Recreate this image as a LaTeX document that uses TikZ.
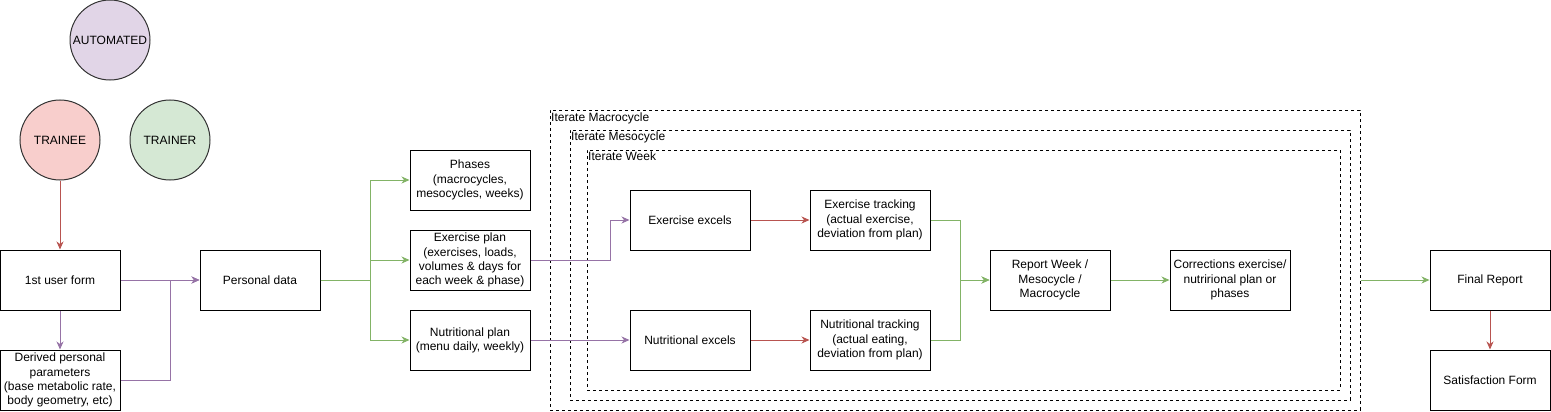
\documentclass[tikz,border=0pt]{standalone}
\usepackage{fontspec}
\setmainfont{Liberation Sans}
\usetikzlibrary{arrows.meta,positioning}
\definecolor{gline}{HTML}{82B366}
\definecolor{rline}{HTML}{B85450}
\definecolor{pline}{HTML}{9673A6}
\definecolor{pfill}{HTML}{E1D5E7}
\definecolor{rfill}{HTML}{F8CECC}
\definecolor{gfill}{HTML}{D5E8D4}
\tikzset{
  box/.style={draw=black, line width=1pt, minimum width=120pt, minimum height=60pt, inner sep=0pt, align=center, font=\fontsize{12}{14.2}\selectfont},
  role/.style={circle, draw=black!80, line width=1pt, minimum size=80pt, inner sep=0pt, align=center, font=\fontsize{12}{14}\selectfont},
  container/.style={draw=black, line width=1pt, dash pattern=on 3pt off 3pt, inner sep=0pt},
  clabel/.style={anchor=west, inner sep=1pt, font=\fontsize{12}{14}\selectfont},
  tip/.style={-{Stealth[length=8pt,width=7pt,inset=2.5pt]}},
  garrow/.style={tip, draw=gline, line width=1pt},
  rarrow/.style={tip, draw=rline, line width=1pt},
  parrow/.style={tip, draw=pline, line width=1pt},
}
\begin{document}
\begin{tikzpicture}[x=1pt,y=-1pt]
\useasboundingbox (0,0) rectangle (1551,412);
% containers
\node[container, minimum width=810pt, minimum height=300pt] (macro) at (955,260) {};
\node[container, minimum width=780pt, minimum height=270pt] (meso) at (960,265) {};
\node[container, minimum width=753pt, minimum height=240pt] (week) at (963.5,270) {};
\node[clabel] (lmacro) at (550,118) {Iterate Macrocycle};
\node[clabel] (lmeso) at (570,137) {Iterate Mesocycle};
\node[clabel] (lweek) at (587,156) {Iterate Week};
% roles
\node[role, fill=pfill] (auto) at (110,40) {AUTOMATED};
\node[role, fill=rfill] (trainee) at (60,140) {TRAINEE};
\node[role, fill=gfill] (trainer) at (170,140) {TRAINER};
% boxes
\node[box] (form) at (60,280) {1st user form};
\node[box] (derived) at (60,380) {Derived personal\\parameters\\(base metabolic rate,\\body geometry, etc)};
\node[box] (pdata) at (260,280) {Personal data};
\node[box] (phases) at (470,180) {Phases\\(macrocycles,\\mesocycles, weeks)};
\node[box] (explan) at (470,260) {Exercise plan\\(exercises, loads,\\volumes \& days for\\each week \& phase)};
\node[box] (nutplan) at (470,340) {Nutritional plan\\(menu daily, weekly)};
\node[box] (exexcel) at (690,220) {Exercise excels};
\node[box] (nutexcel) at (690,340) {Nutritional excels};
\node[box] (extrack) at (870,220) {Exercise tracking\\(actual exercise,\\deviation from plan)};
\node[box] (nuttrack) at (870,340) {Nutritional tracking\\(actual eating,\\deviation from plan)};
\node[box] (report) at (1050,280) {Report Week /\\Mesocycle /\\Macrocycle};
\node[box] (corr) at (1230,280) {Corrections exercise/\\nutrirional plan or\\phases};
\node[box] (final) at (1490,280) {Final Report};
\node[box] (satis) at (1490,380) {Satisfaction Form};
% connectors
\draw[rarrow] (trainee) -- (form);
\draw[parrow] (form) -- (pdata);
\draw[parrow] (form) -- (derived);
\draw[parrow] (derived.east) -- ++(50,0) |- (pdata.west);
\draw[garrow] (pdata.east) -- ++(50,0) |- (phases.west);
\draw[garrow] (pdata.east) -- ++(50,0) |- (explan.west);
\draw[garrow] (pdata.east) -- ++(50,0) |- (nutplan.west);
\draw[parrow] (explan.east) -- ++(80,0) |- (exexcel.west);
\draw[parrow] (nutplan) -- (nutexcel);
\draw[rarrow] (exexcel) -- (extrack);
\draw[rarrow] (nutexcel) -- (nuttrack);
\draw[garrow] (extrack.east) -- ++(30,0) |- (report.west);
\draw[garrow] (nuttrack.east) -- ++(30,0) |- (report.west);
\draw[garrow] (report) -- (corr);
\draw[garrow] (macro.east |- final.west) -- (final.west);
\draw[rarrow] (final) -- (satis);
\end{tikzpicture}
\end{document}
